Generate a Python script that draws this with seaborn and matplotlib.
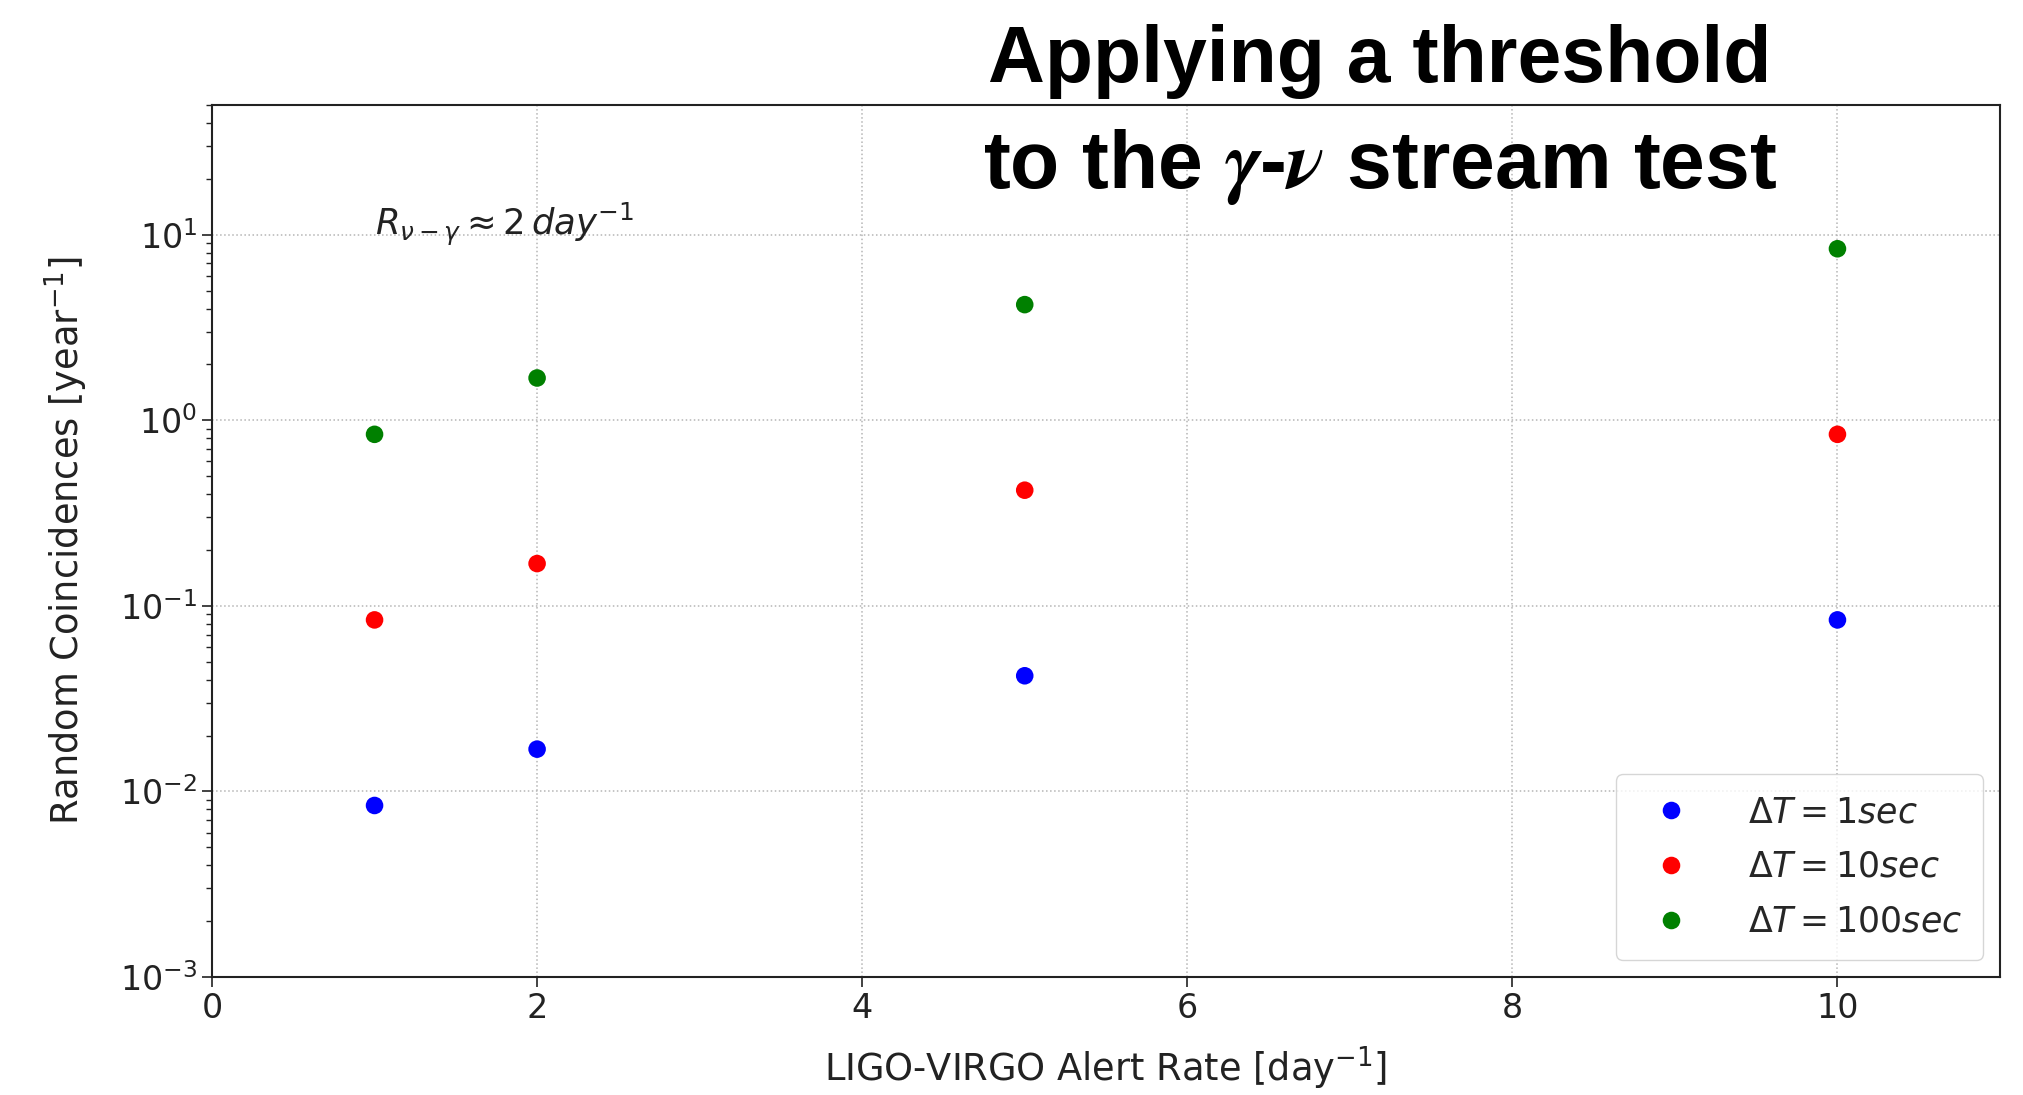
import numpy as np
import pandas as pd
import matplotlib
matplotlib.use('Agg')
import matplotlib.pyplot as plt
import seaborn as sns

# ---- data ----
alert_rate = [1, 2, 5, 10]
coinc_1s = [0.0084, 0.0169, 0.042, 0.084]
coinc_10s = [0.084, 0.169, 0.42, 0.84]
coinc_100s = [0.84, 1.69, 4.2, 8.4]
series_labels = [r'$\Delta T = 1sec$', r'$\Delta T = 10sec$', r'$\Delta T = 100sec$']
series_colors = ['blue', 'red', 'green']
x_ticks = [0, 2, 4, 6, 8, 10]
title_line1 = 'Applying a threshold'
title_line2 = r'to the $\boldsymbol{\gamma}$-$\boldsymbol{\nu}$ stream test'
annotation = r'$R_{\nu-\gamma} \approx 2\,day^{-1}$'
x_label = r'LIGO-VIRGO Alert Rate [day$^{-1}$]'
y_label = r'Random Coincidences [year$^{-1}$]'

df = pd.DataFrame({
    'rate': alert_rate * 3,
    'coinc': coinc_1s + coinc_10s + coinc_100s,
    'window': [series_labels[0]] * 4 + [series_labels[1]] * 4 + [series_labels[2]] * 4,
})

sns.set_style('ticks')
plt.rcParams['font.family'] = ['DejaVu Sans']

fig = plt.figure(figsize=(20.23, 10.95), dpi=100)
ax = fig.add_axes([212 / 2023, 1 - 977 / 1095, (2000 - 212) / 2023, (977 - 105) / 1095])

sns.scatterplot(data=df, x='rate', y='coinc', hue='window', hue_order=series_labels,
                palette=series_colors, s=160, linewidth=0, ax=ax, zorder=3)
ax.set_yscale('log')
ax.set_xlim(0, 11)
ax.set_ylim(1e-3, 50)
ax.set_xticks(x_ticks)

ax.grid(True, which='major', linestyle=':', color='#b5b5b5', linewidth=1.1)
ax.set_axisbelow(True)
for sp in ax.spines.values():
    sp.set_visible(True)
    sp.set_color('#222222')
    sp.set_linewidth(1.5)
ax.tick_params(which='major', direction='out', length=7, width=1.2, labelsize=24,
               colors='#222222')
ax.tick_params(which='minor', direction='out', length=4, width=1.0, colors='#222222')

ax.set_xlabel(x_label, fontsize=26.5, color='#222222', labelpad=14)
ax.set_ylabel(y_label, fontsize=26.5, color='#222222', labelpad=22)

ax.text(1.0, 10, annotation, fontsize=25.5, va='baseline', ha='left', color='#222222')

leg = ax.get_legend()
handles = leg.legend_handles
labels = [t.get_text() for t in leg.get_texts()]
leg.remove()
ax.legend(handles, labels, loc='lower right', fontsize=25, frameon=True, framealpha=0.8,
          edgecolor='0.8', fancybox=True, borderpad=0.6, labelspacing=0.6,
          handletextpad=1.2, markerscale=1.0)

fig.text(1380 / 2023, 1 - 82 / 1095, title_line1, ha='center', va='baseline',
         fontsize=56.7, fontweight='bold', family=['Liberation Sans', 'DejaVu Sans'],
         color='black')
fig.text(1380 / 2023, 1 - 188 / 1095, title_line2, ha='center', va='baseline',
         fontsize=58, fontweight='bold', family=['Liberation Sans', 'DejaVu Sans'],
         color='black', math_fontfamily='stix')

fig.savefig('out.png', dpi=100)
